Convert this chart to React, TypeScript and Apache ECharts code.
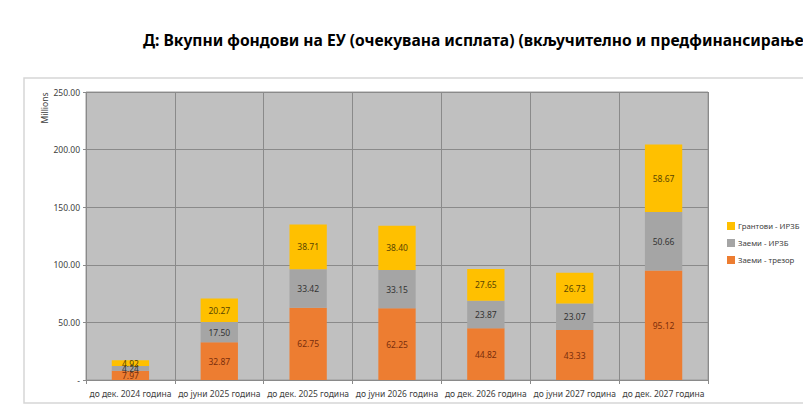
import React, { useEffect, useRef } from "react";
import * as echarts from "echarts";

const categories = [
  "до дек. 2024 година",
  "до јуни 2025 година",
  "до дек. 2025 година",
  "до јуни 2026 година",
  "до дек. 2026 година",
  "до јуни 2027 година",
  "до дек. 2027 година",
];
const loansTreasury = [7.97, 32.87, 62.75, 62.25, 44.82, 43.33, 95.12];
const loansEIB = [4.24, 17.5, 33.42, 33.15, 23.87, 23.07, 50.66];
const grantsEIB = [4.92, 20.27, 38.71, 38.4, 27.65, 26.73, 58.67];
const seriesNames = ["Заеми - трезор", "Заеми - ИРЗБ", "Грантови - ИРЗБ"];
const titleText =
  "Д: Вкупни фондови на ЕУ (очекувана исплата) (вкључително и предфинансирање)";

const FONT = "Noto Sans";

export default function App() {
  const ref = useRef<HTMLDivElement>(null);
  useEffect(() => {
    if (!ref.current) return;
    const chart = echarts.init(ref.current, null, { renderer: "svg" });
    const mkSeries = (name: string, data: number[], color: string, labelColor: string) => ({
      name,
      type: "bar",
      stack: "total",
      data,
      barWidth: "42%",
      itemStyle: { color },
      label: {
        show: true,
        position: "inside",
        color: labelColor,
        fontFamily: FONT,
        fontSize: 8.5,
        formatter: (p: any) => Number(p.value).toFixed(2),
      },
    });
    chart.setOption({
      animation: false,
      backgroundColor: "#ffffff",
      textStyle: { fontFamily: FONT },
      title: {
        text: titleText,
        left: 138,
        top: 27,
        textStyle: {
          fontFamily: FONT,
          fontSize: 15.6,
          fontWeight: "bold",
          color: "#000000",
        },
      },
      graphic: [
        {
          type: "rect",
          z: -1,
          shape: { x: 24, y: 78, width: 800, height: 325 },
          style: { fill: "none", stroke: "#d6d6d6", lineWidth: 1.5 },
        },
        {
          type: "text",
          x: 44,
          y: 108,
          rotation: Math.PI / 2,
          style: {
            text: "Millions",
            fontFamily: FONT,
            fontSize: 8.5,
            fill: "#404040",
            align: "center",
            verticalAlign: "middle",
          },
        },
      ],
      legend: {
        orient: "vertical",
        left: 722,
        top: 217,
        itemWidth: 8,
        itemHeight: 8,
        itemGap: 9,
        icon: "rect",
        data: ["Грантови - ИРЗБ", "Заеми - ИРЗБ", "Заеми - трезор"],
        textStyle: { fontFamily: FONT, fontSize: 7.8, color: "#404040", padding: [0, 0, 0, -2] },
      },
      grid: {
        left: 86,
        top: 92,
        width: 622,
        height: 288,
        show: true,
        backgroundColor: "#c0c0c0",
        borderColor: "#9a9a9a",
        borderWidth: 1,
      },
      xAxis: {
        type: "category",
        data: categories,
        axisLine: { show: true, lineStyle: { color: "#8a8a8a" } },
        axisTick: { show: true, length: 4, lineStyle: { color: "#8a8a8a" } },
        splitLine: { show: true, lineStyle: { color: "#8a8a8a", width: 1 } },
        axisLabel: {
          color: "#404040",
          fontFamily: FONT,
          fontSize: 8.5,
          margin: 9,
          interval: 0,
        },
      },
      yAxis: {
        type: "value",
        min: 0,
        max: 250,
        interval: 50,
        axisLine: { show: false },
        axisTick: { show: true, length: 3, lineStyle: { color: "#8a8a8a" } },
        splitLine: { show: true, lineStyle: { color: "#8a8a8a", width: 1 } },
        axisLabel: {
          color: "#404040",
          fontFamily: FONT,
          fontSize: 8.5,
          margin: 6,
          formatter: (v: number) => (v === 0 ? "-" : v.toFixed(2)),
        },
      },
      series: [
        mkSeries(seriesNames[0], loansTreasury, "#ed7d31", "#7a2e0c"),
        mkSeries(seriesNames[1], loansEIB, "#a5a5a5", "#333333"),
        mkSeries(seriesNames[2], grantsEIB, "#ffc000", "#5a4500"),
      ],
    });
    return () => chart.dispose();
  }, []);
  return (
    <div
      ref={ref}
      style={{ position: "fixed", left: 0, top: 0, width: 803, height: 409 }}
    />
  );
}
